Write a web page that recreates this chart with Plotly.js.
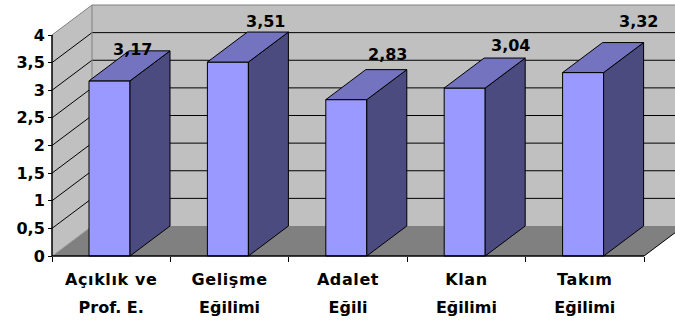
<!DOCTYPE html>
<html>
<head>
<meta charset="utf-8">
<script src="https://cdn.plot.ly/plotly-3.0.1.min.js"></script>
<style>
  html, body { margin: 0; padding: 0; background: #ffffff; }
  #chart { width: 675px; height: 323px; }
  .xtick text { letter-spacing: 0.6px; }
</style>
</head>
<body>
<div id="chart"></div>
<script>
// Category names (two text rows under each bar)
const categoriesTop = ['Açıklık ve', 'Gelişme', 'Adalet', 'Klan', 'Takım'];
const categoriesBottom = ['Prof. E.', 'Eğilimi', 'Eğili', 'Eğilimi', 'Eğilimi'];

// Mean scores
const scores = [3.17, 3.51, 2.83, 3.04, 3.32];

// Value axis ticks
const yTickValues = [0, 0.5, 1, 1.5, 2, 2.5, 3, 3.5, 4];
const yTickLabels = ['0', '0,5', '1', '1,5', '2', '2,5', '3', '3,5', '4'];

// Pixel nudges for the value labels above each bar top
const labelNudgeX = [-17, -2, 1, 6, 15];
const labelNudgeY = [1, 11, 15, 13, 21];

// ---- geometry of the pseudo-3D box ----
const W = 675, H = 323;
const M = { l: 48, r: 0, t: 3, b: 63 };
const PX_X = 118.4;            // pixels per category
const PX_Y = 55.25;            // pixels per value unit
const DX = 40 / PX_X;          // depth offset, x
const DY = 30 / PX_Y;          // depth offset, y
const BAR_W = 41 / PX_X;
const BAR_OFF = -0.1875;
const N = categoriesTop.length;
const X0 = -0.5, X1 = N - 0.5;
const Y_TOP = yTickValues[yTickValues.length - 1];

const plotW = W - M.l - M.r, plotH = H - M.t - M.b;
const xStart = X0 - 4 / PX_X;
const yStart = -4 / PX_Y;
const xRange = [xStart, xStart + plotW / PX_X];
const yRange = [yStart, yStart + plotH / PX_Y];

const idx = scores.map((_, i) => i);
const boundaries = [];
for (let i = 0; i <= N; i++) boundaries.push(i - 0.5);
const bold = s => '<b>' + s + '</b>';

// side and top faces of each bar
const sideX = [], sideY = [], topX = [], topY = [];
scores.forEach((v, i) => {
  const l = i + BAR_OFF, r = l + BAR_W;
  sideX.push(r, r + DX, r + DX, r, r, null);
  sideY.push(0, DY, v + DY, v, 0, null);
  topX.push(l, r, r + DX, l + DX, l, null);
  topY.push(v, v, v + DY, v + DY, v, null);
});

const traces = [
  {
    type: 'bar', x: idx, y: scores, width: BAR_W, offset: BAR_OFF,
    marker: { color: '#9999FF', line: { color: '#000000', width: 1 } },
    hoverinfo: 'skip', showlegend: false
  },
  {
    type: 'scatter', mode: 'lines', x: sideX, y: sideY, fill: 'toself',
    fillcolor: '#4B4B80', line: { color: '#000000', width: 1 },
    hoverinfo: 'skip', showlegend: false
  },
  {
    type: 'scatter', mode: 'lines', x: topX, y: topY, fill: 'toself',
    fillcolor: '#7373C0', line: { color: '#000000', width: 1 },
    xaxis: 'x2', hoverinfo: 'skip', showlegend: false
  }
];

const P = (pts) => 'M' + pts.map(p => p[0] + ',' + p[1]).join(' L') ;
const shapes = [];
const shp = (path, opts) => shapes.push(Object.assign({ type: 'path', xref: 'x', yref: 'y', path: path, layer: 'below' }, opts));

// floor and walls
shp(P([[X0, 0], [X1, 0], [X1 + DX, DY], [X0 + DX, DY]]) + ' Z', { fillcolor: '#808080', line: { width: 0 } });
shp(P([[X0, 0], [X0 + DX, DY], [X0 + DX, Y_TOP + DY], [X0, Y_TOP]]) + ' Z', { fillcolor: '#C0C0C0', line: { width: 0 } });
shp(P([[X0 + DX, DY], [X1 + DX, DY], [X1 + DX, Y_TOP + DY], [X0 + DX, Y_TOP + DY]]) + ' Z', { fillcolor: '#C0C0C0', line: { width: 0 } });

// gridlines running along the side wall and the back wall
yTickValues.slice(1, -1).forEach(v => {
  shp(P([[X0, v], [X0 + DX, v + DY], [X1 + DX, v + DY]]), { line: { color: '#000000', width: 1 } });
});

// wall borders
shp(P([[X0, Y_TOP], [X0 + DX, Y_TOP + DY], [X1 + DX, Y_TOP + DY]]), { line: { color: '#808080', width: 1 } });
shp(P([[X0 + DX, DY], [X0 + DX, Y_TOP + DY]]), { line: { color: '#808080', width: 1 } });
shp(P([[X0, 0], [X0 + DX, DY]]), { line: { color: '#A0A0A0', width: 1 } });
shp(P([[X1, 0], [X1 + DX, DY]]), { line: { color: '#000000', width: 1 } });

// front axis lines
shp(P([[X0, 0], [X1, 0]]), { line: { color: '#000000', width: 1.5 }, layer: 'above' });
shp(P([[X0, 0], [X0, Y_TOP]]), { line: { color: '#000000', width: 1.5 }, layer: 'above' });

const labelFont = { family: 'DejaVu Sans', size: 16, weight: 700, color: '#000000' };

const annotations = scores.map((v, i) => ({
  xref: 'x', yref: 'y',
  x: i + BAR_OFF + BAR_W / 2 + DX, y: v + DY,
  xshift: labelNudgeX[i], yshift: labelNudgeY[i],
  text: bold(v.toFixed(2).replace('.', ',')),
  showarrow: false, xanchor: 'center', yanchor: 'middle',
  font: labelFont
}));

const axisPosX = (X0 - xRange[0]) / (xRange[1] - xRange[0]);
const axisPosY = (0 - yRange[0]) / (yRange[1] - yRange[0]);

const layout = {
  width: W, height: H,
  margin: M,
  paper_bgcolor: '#ffffff', plot_bgcolor: 'rgba(0,0,0,0)',
  showlegend: false,
  separators: ',.',
  xaxis: {
    type: 'linear', range: xRange, fixedrange: true,
    anchor: 'free', position: axisPosY,
    tickmode: 'array', tickvals: idx, ticktext: categoriesTop.map(bold),
    ticks: '', showgrid: false, zeroline: false, showline: false,
    ticklabelstandoff: 12,
    tickfont: labelFont,
    minor: { tickmode: 'array', tickvals: boundaries, ticks: 'outside', ticklen: 5, tickcolor: '#000000', tickwidth: 1, showgrid: false }
  },
  xaxis2: {
    type: 'linear', range: xRange, fixedrange: true,
    overlaying: 'x', anchor: 'free', position: axisPosY, side: 'bottom',
    tickmode: 'array', tickvals: idx, ticktext: categoriesBottom.map(bold),
    ticks: '', showgrid: false, zeroline: false, showline: false,
    ticklabelstandoff: 40,
    tickfont: labelFont
  },
  yaxis: {
    type: 'linear', range: yRange, fixedrange: true,
    anchor: 'free', position: axisPosX,
    tickmode: 'array', tickvals: yTickValues, ticktext: yTickLabels.map(bold),
    ticks: 'outside', ticklen: 4, tickcolor: '#000000', tickwidth: 1,
    showgrid: false, zeroline: false, showline: false,
    tickfont: labelFont
  },
  shapes: shapes,
  annotations: annotations
};

Plotly.newPlot('chart', traces, layout, { staticPlot: true, displayModeBar: false });
</script>
</body>
</html>
